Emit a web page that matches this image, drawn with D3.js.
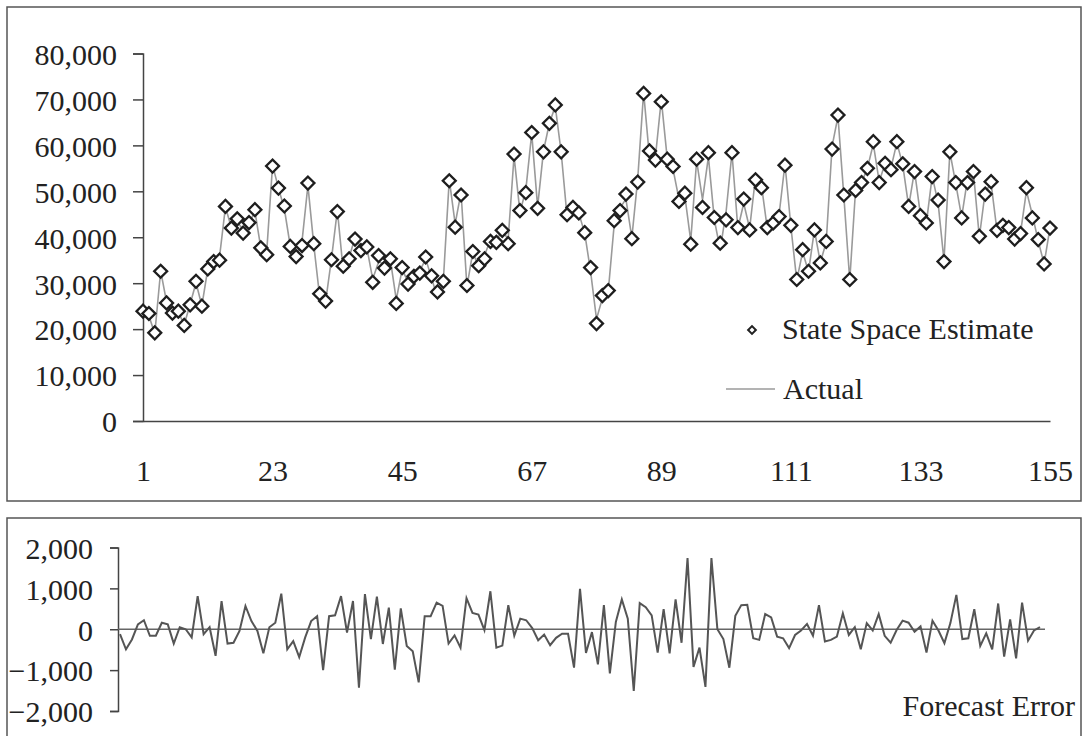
<!DOCTYPE html>
<head>
<meta charset="utf-8">
<script src="https://d3js.org/d3.v7.min.js"></script>
</head>
<style>
body { margin: 0; background: #fff; }
text { font-family: "Liberation Serif", "Times New Roman", serif; fill: #222; }
.axis text { font-size: 30px; fill: #222; }
.axis path, .axis line { stroke: #444; stroke-width: 1.5px; }
.actual { fill: none; stroke: #9a9a9a; stroke-width: 1.6px; }
.err { fill: none; stroke: #555; stroke-width: 2px; }
.frame { fill: none; stroke: #555; stroke-width: 1.5px; }
</style>
<body>
<script>
// state space estimate, periods 1..155
var estimate = [23900,23400,19200,32600,25700,23500,23900,20800,25300,30400,
  25000,33100,34700,35000,46700,42000,44000,40900,43200,46000,
  37700,36200,55500,50700,46800,38000,35800,38200,51800,38600,
  27700,26100,35100,45600,33700,35300,39600,37100,37900,30200,
  36000,33300,35300,25600,33400,29800,31500,32200,35700,31600,
  28100,30400,52300,42200,49200,29500,36900,33800,35300,39100,
  38900,41500,38600,58100,45800,49700,62800,46300,58600,64800,
  68800,58600,44900,46500,45300,41000,33400,21200,27300,28400,
  43600,45800,49400,39700,52000,71300,58800,56800,69500,57000,
  55400,47800,49600,38500,57000,46500,58400,44300,38700,43800,
  58400,42100,48300,41600,52500,50800,42100,43100,44500,55700,
  42600,30800,37300,32600,41600,34400,39100,59200,66600,49200,
  30800,50200,51900,55000,60800,51900,56100,54700,60800,56000,
  46700,54300,44700,43100,53200,48100,34700,58600,51900,44200,
  51900,54300,40200,49400,52100,41500,42600,42100,39600,40800,
  50800,44200,39500,34200,42000];

var actual = [23800,22900,19000,32700,25900,23300,23700,21000,25400,30100,
  25100,33100,34500,35800,46600,42100,43400,41600,42900,45700,
  37700,36800,55700,50700,46200,38100,36000,39100,51300,38300,
  27000,25900,35300,45900,32700,35600,39900,37900,37800,30900,
  34600,34200,35100,26400,33000,30300,30500,32700,35300,31100,
  26800,30700,52600,42900,49800,29200,36800,33400,36100,39500,
  39300,41500,39500,57700,45400,50300,62600,46600,58800,64800,
  68500,58500,44500,46300,45200,40900,32500,22200,26700,28300,
  42700,46400,48300,39900,52700,71600,57300,57400,70000,57300,
  54800,48300,49000,39200,56700,48200,57500,43900,37300,45500,
  58400,41900,47400,41900,53100,51400,41900,42800,44900,56000,
  42400,30600,36800,32500,41600,34500,38900,59800,66300,48900,
  30600,50600,51800,55100,60300,52100,56100,55100,60600,55700,
  46700,54500,44900,43000,53300,47500,34900,58600,51600,44400,
  52700,54100,40000,49900,51700,41400,42100,42700,38900,41000,
  50100,44900,39200,34200,42100];

var forecastError = [-120,-490,-250,120,220,-160,-160,160,120,-350,
  50,0,-200,810,-120,50,-650,690,-350,-330,
  -40,570,200,-40,-590,50,160,870,-490,-290,
  -680,-200,200,320,-1000,320,340,810,-80,690,
  -1430,860,-240,800,-360,530,-990,510,-410,-540,
  -1300,320,320,650,570,-350,-150,-450,760,400,
  360,-20,930,-450,-400,590,-160,260,220,30,
  -270,-130,-390,-210,-110,-110,-940,990,-580,-70,
  -860,590,-1080,180,730,260,-1510,640,540,340,
  -570,490,-590,730,-330,1740,-920,-450,-1410,1740,
  0,-240,-940,330,590,600,-220,-260,370,290,
  -180,-220,-460,-140,-30,130,-160,590,-300,-260,
  -180,390,-140,50,-490,150,-30,370,-160,-330,
  -20,210,160,-60,70,-570,210,-30,-340,150,
  840,-240,-220,490,-410,-100,-490,630,-670,240,
  -710,650,-280,-30,50];

var xTicks = [1, 23, 45, 67, 89, 111, 133, 155];
var yTicks = [0, 10000, 20000, 30000, 40000, 50000, 60000, 70000, 80000];
var errTicks = [-2000, -1000, 0, 1000, 2000];

var periods = estimate.map(function(d, i) { return i + 1; });

var svg = d3.select("body").append("svg")
    .attr("width", 1085)
    .attr("height", 736);

// panel frames
svg.append("rect").attr("class", "frame")
    .attr("x", 7).attr("y", 7).attr("width", 1074).attr("height", 494);
svg.append("rect").attr("class", "frame")
    .attr("x", 7).attr("y", 518).attr("width", 1074).attr("height", 230);

// ---- top panel ----
var x = d3.scaleLinear().domain([1, 155]).range([143, 1050]);
var y = d3.scaleLinear().domain([0, 80000]).range([421, 53.5]);

svg.append("g")
    .attr("class", "axis")
    .attr("transform", "translate(143,0)")
    .call(d3.axisLeft(y).tickValues(yTicks).tickSize(10).tickPadding(16)
      .tickFormat(d3.format(",")))
  .selectAll("text").attr("dy", "0.36em");

svg.append("g")
    .attr("class", "axis")
    .attr("transform", "translate(0,421)")
    .call(d3.axisBottom(x).tickValues(xTicks).tickSize(0).tickPadding(39));

var line = d3.line()
    .x(function(d, i) { return x(periods[i]); })
    .y(function(d) { return y(d); });

svg.append("path")
    .datum(actual)
    .attr("class", "actual")
    .attr("d", line);

var diamond = d3.symbol().type(d3.symbolSquare).size(84);
svg.selectAll(".est")
    .data(estimate)
  .enter().append("path")
    .attr("class", "est")
    .attr("d", diamond)
    .attr("transform", function(d, i) {
      return "translate(" + x(periods[i]) + "," + y(d) + ") rotate(45)";
    })
    .attr("fill", "#fff")
    .attr("stroke", "#1e1e1e")
    .attr("stroke-width", 2.3);

// legend
svg.append("path")
    .attr("d", d3.symbol().type(d3.symbolSquare).size(30))
    .attr("transform", "translate(752,330) rotate(45)")
    .attr("fill", "#fff").attr("stroke", "#222").attr("stroke-width", 2);
svg.append("text").attr("x", 782).attr("y", 339)
    .style("font-size", "30px").text("State Space Estimate");
svg.append("line")
    .attr("x1", 726).attr("x2", 775).attr("y1", 389).attr("y2", 389)
    .attr("stroke", "#9a9a9a").attr("stroke-width", 1.5);
svg.append("text").attr("x", 783).attr("y", 399)
    .style("font-size", "30px").text("Actual");

// ---- bottom panel ----
var x2 = d3.scaleLinear().domain([1, 155]).range([120, 1040]);
var y2 = d3.scaleLinear().domain([-2000, 2000]).range([711, 547.5]);

svg.append("g")
    .attr("class", "axis")
    .attr("transform", "translate(118,0)")
    .call(d3.axisLeft(y2).tickValues(errTicks).tickSize(8).tickPadding(17)
      .tickFormat(d3.format(",")))
  .selectAll("text").attr("dy", "0.36em");

svg.append("line")
    .attr("x1", 118).attr("x2", 1045)
    .attr("y1", y2(0)).attr("y2", y2(0))
    .attr("stroke", "#666").attr("stroke-width", 1.5);

svg.append("path")
    .datum(forecastError)
    .attr("class", "err")
    .attr("d", d3.line()
      .x(function(d, i) { return x2(periods[i]); })
      .y(function(d) { return y2(d); }));

svg.append("text")
    .attr("x", 1075).attr("y", 716)
    .attr("text-anchor", "end")
    .style("font-size", "30px")
    .text("Forecast Error");
</script>
</body>
